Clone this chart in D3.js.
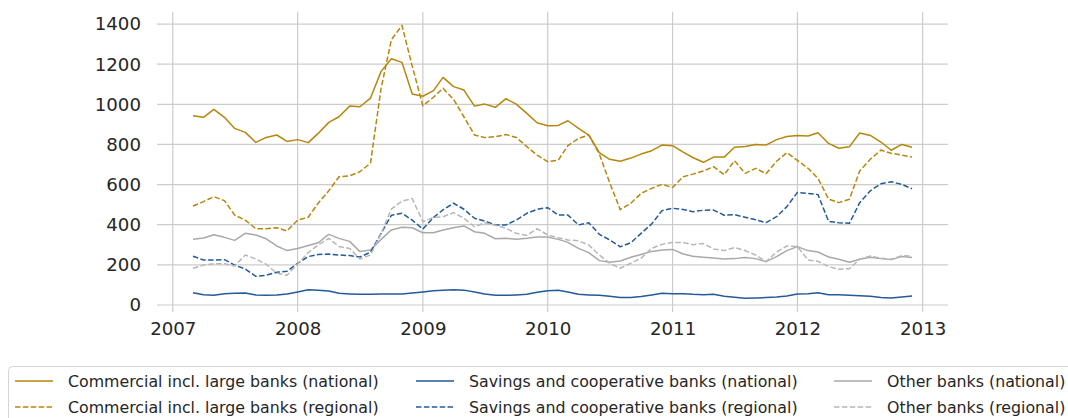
<!DOCTYPE html>
<html>
<head>
<meta charset="utf-8">
<script src="https://cdn.jsdelivr.net/npm/d3@7"></script>
<style>
  html, body { margin: 0; padding: 0; background: #ffffff; }
  svg { display: block; font-family: "DejaVu Sans", sans-serif; }
</style>
</head>
<body>
<svg id="chart" width="1068" height="418"></svg>
<script>
// Monthly observations, March 2007 – December 2012
const firstMonth = new Date(2007, 2, 1);
const lastMonth = new Date(2012, 11, 1);

const commercialNational = [943, 935, 975, 935, 880, 860, 810, 835, 847, 815, 824, 809, 855, 910, 938, 991, 988, 1031, 1164, 1227,
  1209, 1051, 1040, 1068, 1134, 1088, 1071, 991, 1001, 985, 1028, 1001, 955, 908, 893, 895, 918, 880, 847, 759,
  726, 716, 732, 752, 769, 797, 794, 762, 735, 711, 737, 737, 786, 790, 800, 797, 824, 840, 845, 842,
  858, 805, 781, 789, 857, 845, 812, 771, 800, 786];
const commercialRegional = [493, 515, 540, 520, 448, 423, 380, 380, 385, 369, 423, 437, 507, 569, 639, 644, 664, 707, 1080, 1322,
  1393, 1190, 993, 1035, 1080, 1024, 938, 847, 834, 839, 849, 835, 789, 747, 714, 722, 794, 830, 847, 752,
  610, 475, 507, 556, 581, 601, 585, 639, 652, 668, 689, 649, 719, 656, 681, 654, 716, 759, 721, 681,
  631, 528, 510, 527, 668, 726, 772, 756, 747, 737];
const savingsNational = [61, 51, 48, 56, 58, 60, 50, 49, 50, 55, 65, 76, 73, 70, 58, 55, 53, 53, 55, 55,
  55, 60, 65, 71, 73, 76, 74, 65, 55, 48, 48, 50, 53, 63, 71, 73, 65, 53, 50, 48,
  43, 37, 37, 42, 50, 58, 56, 56, 53, 51, 53, 43, 38, 33, 35, 37, 40, 45, 55, 56,
  61, 51, 51, 48, 46, 43, 37, 35, 40, 45];
const savingsRegional = [243, 224, 224, 226, 199, 179, 143, 148, 163, 168, 208, 241, 252, 254, 249, 246, 239, 263, 357, 447,
  457, 423, 378, 436, 474, 507, 477, 432, 418, 399, 399, 423, 457, 477, 485, 448, 448, 399, 410, 352,
  324, 290, 310, 357, 404, 470, 482, 476, 465, 472, 473, 447, 450, 437, 425, 410, 440, 490, 561, 556,
  550, 417, 410, 407, 510, 569, 604, 614, 601, 579];
const otherNational = [327, 334, 350, 337, 322, 357, 349, 330, 294, 271, 281, 296, 310, 352, 332, 317, 266, 274, 327, 374,
  387, 385, 360, 360, 374, 385, 394, 365, 357, 330, 332, 327, 332, 339, 339, 327, 312, 282, 261, 221,
  213, 219, 238, 252, 267, 274, 277, 254, 243, 238, 234, 229, 231, 236, 231, 216, 241, 271, 291, 271,
  264, 239, 228, 213, 228, 238, 231, 226, 241, 236];
const otherRegional = [183, 199, 206, 206, 194, 249, 229, 203, 158, 148, 204, 261, 299, 332, 291, 282, 229, 249, 357, 478,
  518, 530, 415, 436, 440, 460, 432, 390, 410, 397, 382, 357, 347, 380, 349, 335, 324, 320, 299, 249,
  208, 183, 208, 233, 282, 302, 312, 311, 300, 306, 279, 271, 286, 271, 249, 216, 264, 294, 291, 224,
  218, 191, 178, 181, 228, 244, 233, 228, 246, 244];

const seriesNames = [
  "Commercial incl. large banks (national)",
  "Commercial incl. large banks (regional)",
  "Savings and cooperative banks (national)",
  "Savings and cooperative banks (regional)",
  "Other banks (national)",
  "Other banks (regional)"
];
const yTickValues = [0, 200, 400, 600, 800, 1000, 1200, 1400];
const xTickYears = [2007, 2008, 2009, 2010, 2011, 2012, 2013];

const months = d3.timeMonth.range(firstMonth, d3.timeMonth.offset(lastMonth, 1));

const gold = "#b8860b", blue = "#24599a", grey = "#a9a9a9", greyLight = "#b7b7b7";
const series = [
  { name: seriesNames[0], values: commercialNational, color: gold, dashed: false },
  { name: seriesNames[2], values: savingsNational, color: blue, dashed: false },
  { name: seriesNames[4], values: otherNational, color: grey, dashed: false },
  { name: seriesNames[1], values: commercialRegional, color: gold, dashed: true },
  { name: seriesNames[3], values: savingsRegional, color: blue, dashed: true },
  { name: seriesNames[5], values: otherRegional, color: greyLight, dashed: true }
];

const svg = d3.select("#chart");
const plot = { left: 157, right: 948, top: 11.8, bottom: 312 };
const dashPattern = "5.5,2.4";

// Axis limits with a 5% margin around the data
const t0 = +months[0], t1 = +months[months.length - 1];
const tPad = (t1 - t0) * 0.05;
const x = d3.scaleTime()
  .domain([new Date(t0 - tPad), new Date(t1 + tPad)])
  .range([plot.left, plot.right]);

const allVals = series.flatMap(s => s.values);
const vMin = d3.min(allVals), vMax = d3.max(allVals);
const vPad = (vMax - vMin) * 0.05;
const y = d3.scaleLinear()
  .domain([vMin - vPad, vMax + vPad])
  .range([plot.bottom, plot.top]);

// Grid
const grid = svg.append("g").attr("stroke", "#cccccc").attr("stroke-width", 1.2);
grid.selectAll("line.h").data(yTickValues).join("line")
  .attr("x1", plot.left).attr("x2", plot.right)
  .attr("y1", d => y(d)).attr("y2", d => y(d));
grid.selectAll("line.v").data(xTickYears).join("line")
  .attr("y1", plot.top).attr("y2", plot.bottom)
  .attr("x1", d => x(new Date(d, 0, 1))).attr("x2", d => x(new Date(d, 0, 1)));

// Axes (labels only)
const yAxis = d3.axisLeft(y).tickValues(yTickValues).tickFormat(d3.format("d"))
  .tickSize(0).tickPadding(16);
const yg = svg.append("g").attr("transform", `translate(${plot.left},0)`).call(yAxis);
const xAxis = d3.axisBottom(x).tickValues(xTickYears.map(v => new Date(v, 0, 1)))
  .tickFormat(d3.timeFormat("%Y")).tickSize(0).tickPadding(10);
const xg = svg.append("g").attr("transform", `translate(0,${plot.bottom})`).call(xAxis);
[yg, xg].forEach(g => {
  g.select(".domain").remove();
  g.selectAll("text").attr("font-size", 18.2).attr("fill", "#262626")
    .attr("font-family", "DejaVu Sans, sans-serif");
});

// Lines
const line = d3.line().x((d, i) => x(months[i])).y(d => y(d));
svg.append("g").selectAll("path").data(series).join("path")
  .attr("fill", "none")
  .attr("stroke", d => d.color)
  .attr("stroke-width", 1.5)
  .attr("stroke-dasharray", d => d.dashed ? dashPattern : null)
  .attr("stroke-linejoin", "round")
  .attr("d", d => line(d.values));

// Legend: three columns, two rows
const legend = svg.append("g");
legend.append("rect")
  .attr("x", 8.5).attr("y", 366.5).attr("width", 1080).attr("height", 70)
  .attr("rx", 4).attr("fill", "#ffffff").attr("stroke", "#d4d4d4");
const colX = [15, 416, 834];
const rowY = [381, 407];
const legendItems = [
  { s: series[0], c: 0, r: 0 }, { s: series[3], c: 0, r: 1 },
  { s: series[1], c: 1, r: 0 }, { s: series[4], c: 1, r: 1 },
  { s: series[2], c: 2, r: 0 }, { s: series[5], c: 2, r: 1 }
];
const items = legend.selectAll("g.item").data(legendItems).join("g")
  .attr("transform", d => `translate(${colX[d.c]},${rowY[d.r]})`);
items.append("line")
  .attr("x1", 0).attr("x2", 38).attr("y1", 0).attr("y2", 0)
  .attr("stroke", d => d.s.color).attr("stroke-width", 1.5)
  .attr("stroke-dasharray", d => d.s.dashed ? dashPattern : null);
items.append("text")
  .attr("x", 53).attr("y", 5.6)
  .attr("font-size", 15.8).attr("fill", "#262626")
  .text(d => d.s.name);
</script>
</body>
</html>
